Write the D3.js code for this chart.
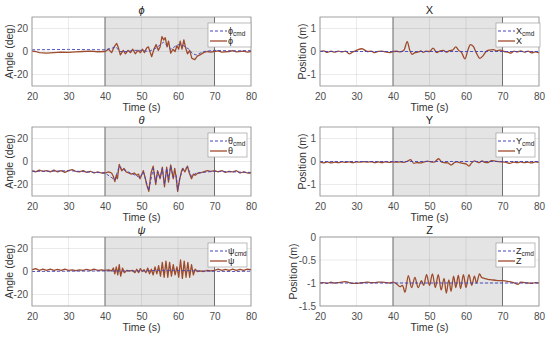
<!DOCTYPE html>
<html>
<head>
<meta charset="utf-8">
<script src="https://cdn.jsdelivr.net/npm/d3@7"></script>
<style>
  body { margin: 0; background: #fff; }
  svg { display: block; font-family: "Liberation Sans", Arial, sans-serif; }
</style>
</head>
<body>
<div id="chart"></div>
<script>
// time window and the shaded disturbance interval
const timeDomain = [20, 80];
const timeTicks = [20, 30, 40, 50, 60, 70, 80];
const shadedInterval = [40, 70];

const angleDomain = [-30, 30];
const angleTicks = [-20, 0, 20];
const posDomain = [-1.5, 1.5];
const posTicks = [-1, 0, 1];
const zDomain = [-1.5, 0];
const zTicks = [-1.5, -1, -0.5, 0];

// [time, value] pairs
const phiMeas = [[20,0.3],[21,0],[22,-1],[24,-1.5],[26,-1],[28,-0.5],[30,-0.8],[32,-0.3],[34,0],[36,0.3],[38,-0.2],[40,0],[41,2],[41.8,-1],[42.5,4],[43.2,7],[43.7,3],[44.2,-3],[45,1],[45.6,-2],[46.3,1],[47,-1],[47.6,2],[48.3,-2],[49,1],[49.7,-1],[50.3,2],[50.8,-1],[51.4,3],[51.9,4],[52.4,-1],[52.8,-4.5],[53.4,2],[54,6],[54.6,1],[55.1,4],[55.6,13],[56.1,10],[56.5,12],[57,4],[57.4,9],[58,-1.5],[58.6,2],[59.2,0],[59.7,5],[60.2,2],[60.6,9],[61.1,2],[61.6,10],[62.1,3],[62.6,-2],[63.2,1],[63.8,-6],[64.6,-7],[65.3,-4],[66,-3],[67,-1],[68,0],[69,-0.5],[70,0],[71,0.5],[72,-0.5],[74,0],[75,0.7],[76,-0.3],[78,0.3],[79,-0.5],[80,0]];
const phiCmd = [[20,1.5],[30,1.8],[40,1.5],[42,3],[43,4],[44,0],[46,0],[48,1],[50,1],[52,0],[54,3],[56,8],[57,5],[58,2],[60,6],[61.5,5],[63,2],[64,-2],[65,-3],[67,0],[70,1],[75,0.5],[80,0.8]];

const thetaMeas = [[20,-8],[21,-9],[22,-7.5],[23,-8.5],[24,-8],[25,-9],[26,-7.5],[27,-9],[28,-8],[29,-9.5],[30,-8],[31,-7],[32,-8.5],[33,-9],[34,-8],[35,-9.5],[36,-8.5],[37,-10],[38,-9],[39,-10],[40,-10],[41,-9],[41.8,-10],[42.3,-13],[42.7,-17.5],[43.1,-12],[43.4,-15],[43.9,-2.5],[44.3,-6],[44.6,-8],[45.2,-6],[45.8,-9],[46.5,-10],[47.2,-11],[48,-10],[48.7,-12],[49.2,-11],[49.6,-15],[50.1,-11],[50.5,-8],[51,-14],[51.4,-20],[52,-26],[52.6,-10],[53.2,-4],[53.9,-20],[54.4,-8],[55.1,-15],[55.7,-5],[56.3,-22],[56.9,-5],[57.4,-18],[58,-3],[58.7,-15],[59.1,-6],[59.5,-14],[59.9,-26],[60.5,-15],[61,-8],[61.3,-6],[61.9,-9],[62.6,-4],[63.1,-10],[63.7,-15],[64.2,-11],[64.7,-12],[65.5,-10],[66,-10],[67,-9],[68,-8],[69,-8.5],[70,-8],[71,-9],[72,-8],[73,-9.5],[74,-8.5],[75,-9],[76,-8],[77,-10],[78,-9],[79,-10],[80,-10]];
const thetaCmd = [[20,-8.5],[25,-8.5],[30,-8],[35,-9],[40,-10],[42.7,-16],[43.9,-4],[45,-7],[47,-10],[49.6,-14],[50.5,-9],[52,-25],[53.2,-6],[53.9,-18],[54.4,-9],[55.1,-14],[55.7,-6],[56.3,-20],[56.9,-6],[57.4,-16],[58,-4],[58.7,-14],[59.5,-12],[59.9,-25],[60.5,-14],[61.3,-7],[62.6,-5],[63.7,-13],[65,-10],[70,-8.5],[75,-9],[80,-9.5]];

const psiMeas = [[20,1.5],[21,2.5],[22,1],[23,2],[24,1],[25,2],[26,1],[27,1.8],[28,1],[29,2],[30,1],[31,1.5],[32,0.8],[33,1.5],[34,1],[35,1.8],[36,1],[37,2],[38,1],[39,1.5],[40,1],[41,1.5],[41.8,0.5],[42.3,3],[42.7,-2],[43.1,4],[43.5,-3],[43.9,6],[44.3,-4],[44.8,3],[45.3,-1],[46,1],[46.8,0.5],[47.5,1],[48.2,-1],[48.7,2],[49.2,-1],[49.7,2.5],[50.2,0],[50.7,1.5],[51.2,-1],[51.7,3],[52.2,-2],[52.7,2],[53.2,-3],[53.7,4],[54.2,-2],[54.7,5],[55.2,-4],[55.7,8],[56.2,-5],[56.7,9],[57.2,-5],[57.7,8],[58.2,-4],[58.7,6],[59.2,-3],[59.7,4],[60.2,-5],[60.7,10],[61.2,-6],[61.7,9],[62.2,-5],[62.7,8],[63.2,-5],[63.7,6],[64.2,-3],[64.7,2],[65.3,0],[66,0.5],[67,0],[68,1],[69,0.5],[70,1],[71,2],[72,1],[73,1.8],[74,1],[75,2],[76,1],[77,1.8],[78,1],[79,2],[80,1.5]];
const psiCmd = [[20,0],[30,0.3],[40,0.5],[45,0.5],[50,0.5],[55,1],[60,1],[65,0.5],[70,0.2],[75,0],[80,0.3]];

const xMeas = [[20,0],[21,0.03],[22,-0.04],[23,0.02],[24,-0.03],[25,0.02],[26,-0.02],[27,0.02],[28,-0.1],[29,-0.02],[30,0.05],[31.5,0.12],[33,0],[34,0.02],[35,-0.05],[36,0.01],[37,0.02],[38,-0.02],[39,-0.05],[40,0],[41,0.01],[42,-0.02],[43,0.05],[43.9,0.43],[44.6,0.05],[45.2,-0.12],[46,-0.05],[47,-0.02],[47.6,0.03],[48.3,-0.04],[49,0.02],[50,0],[51,0.15],[52,-0.05],[52.8,0.02],[53.8,0.05],[54.6,-0.03],[55.5,0.04],[56.3,0.06],[57.2,0.2],[58,0.05],[58.8,-0.05],[59.7,-0.32],[60.5,0.05],[61.2,0.3],[62,0.22],[62.8,-0.05],[63.8,-0.3],[64.7,-0.18],[65.5,0],[66.3,0.06],[67.5,0.08],[68.5,0.03],[69.4,0.06],[70.5,0],[71.5,-0.03],[72.3,-0.07],[73.2,0.02],[74,-0.02],[75,0.03],[76,-0.03],[77,0.02],[78,-0.06],[79,-0.02],[80,-0.06]];
const xCmd = [[20,0],[80,0]];

const yMeas = [[20,-0.03],[21,-0.06],[22,-0.02],[23,-0.06],[24,-0.03],[25,-0.05],[26,-0.02],[27,-0.04],[28,-0.02],[29,-0.05],[30,-0.02],[31,-0.03],[32,-0.01],[33,-0.03],[34,-0.01],[35,-0.05],[36,-0.02],[37,-0.05],[38,-0.01],[39,-0.04],[40,-0.02],[41,-0.03],[42,-0.02],[43,-0.04],[44,0.02],[44.8,0.08],[45.7,-0.08],[46.5,-0.05],[47.5,-0.06],[48.5,-0.02],[49.5,0.02],[50.3,-0.02],[51.2,-0.03],[52.5,0.12],[53.3,-0.02],[54,-0.05],[55,-0.06],[56,-0.15],[56.8,-0.05],[57.5,-0.02],[58.3,-0.05],[59.2,-0.08],[60,-0.1],[60.8,-0.2],[61.6,-0.05],[62.3,0.03],[63,-0.02],[63.6,-0.05],[64.4,0.03],[65.2,-0.04],[66,-0.05],[67,0.04],[68,0.02],[69,-0.01],[70,-0.02],[71,-0.04],[72,-0.08],[73,-0.03],[74,-0.05],[75,-0.02],[76,-0.05],[77,-0.03],[78,-0.06],[79,-0.02],[80,-0.04]];
const yCmd = [[20,0],[80,0]];

const zMeas = [[20,-1],[21,-0.99],[22,-1.01],[23,-0.98],[24,-1],[25,-0.99],[26,-0.98],[27,-0.97],[28,-0.99],[29,-1.01],[30,-1.01],[31,-1],[32,-0.99],[33,-0.98],[34,-0.99],[35,-0.99],[36,-0.98],[37,-0.98],[38,-0.99],[39,-1.0],[40,-0.98],[41,-1.02],[41.9,-1.08],[42.6,-1.05],[43.3,-1.2],[44.2,-0.84],[45.1,-1.1],[46,-0.88],[46.9,-1.1],[47.8,-0.95],[48.4,-1.05],[49.2,-0.82],[50,-1.05],[50.8,-0.8],[51.6,-1.1],[52.4,-0.82],[53.2,-1.15],[54,-0.9],[54.6,-1.22],[55.3,-0.93],[55.9,-1.18],[56.6,-0.85],[57.2,-1.1],[57.9,-0.83],[58.5,-1.12],[59.3,-0.82],[60,-1.1],[60.8,-0.82],[61.6,-1.05],[62.3,-0.85],[62.9,-1.0],[63.7,-0.8],[64.3,-0.88],[65,-0.9],[66,-0.92],[67,-0.93],[68,-0.94],[69,-0.95],[70,-0.95],[71,-0.96],[72,-0.97],[73,-0.99],[74.3,-1.03],[75,-0.98],[76,-0.99],[77,-1.0],[78,-1.01],[79,-0.99],[80,-1.0]];
const zCmd = [[20,-1],[80,-1]];

const cmdColor = "#4242c0";
const measColor = "#9e4b2c";

const width = 550, height = 337;
const colLeft = [32, 320];
const rowTop = [17, 127, 237];
const plotW = 219, plotH = 69;

const panels = [
    {title: "\u03d5", sym: "\u03d5", col: 0, row: 0, ylab: "Angle (deg)", domain: angleDomain, ticks: angleTicks, meas: phiMeas, cmd: phiCmd, smooth: false, legW: 43},
    {title: "\u03b8", sym: "\u03b8", col: 0, row: 1, ylab: "Angle (deg)", domain: angleDomain, ticks: angleTicks, meas: thetaMeas, cmd: thetaCmd, smooth: false, legW: 39},
    {title: "\u03c8", sym: "\u03c8", col: 0, row: 2, ylab: "Angle (deg)", domain: angleDomain, ticks: angleTicks, meas: psiMeas, cmd: psiCmd, smooth: false, legW: 39},
    {title: "X", sym: "X", col: 1, row: 0, ylab: "Position (m)", domain: posDomain, ticks: posTicks, meas: xMeas, cmd: xCmd, smooth: true, legW: 44},
    {title: "Y", sym: "Y", col: 1, row: 1, ylab: "Position (m)", domain: posDomain, ticks: posTicks, meas: yMeas, cmd: yCmd, smooth: true, legW: 39},
    {title: "Z", sym: "Z", col: 1, row: 2, ylab: "Position (m)", domain: zDomain, ticks: zTicks, meas: zMeas, cmd: zCmd, smooth: true, legW: 39}
];

const svg = d3.select("#chart").append("svg")
    .attr("width", width)
    .attr("height", height);

panels.forEach((p, i) => {
    const g = svg.append("g")
        .attr("transform", `translate(${colLeft[p.col]},${rowTop[p.row]})`);

    const x = d3.scaleLinear().domain(timeDomain).range([0, plotW]);
    const y = d3.scaleLinear().domain(p.domain).range([plotH, 0]);

    g.append("clipPath").attr("id", "clip" + i)
        .append("rect").attr("width", plotW).attr("height", plotH);

    // shaded disturbance window
    g.append("rect")
        .attr("x", x(shadedInterval[0]))
        .attr("width", x(shadedInterval[1]) - x(shadedInterval[0]))
        .attr("y", 0).attr("height", plotH)
        .attr("fill", "#e4e4e4");

    // grid
    g.append("g").selectAll("line").data(timeTicks).join("line")
        .attr("x1", d => x(d)).attr("x2", d => x(d))
        .attr("y1", 0).attr("y2", plotH)
        .attr("stroke", "#000").attr("stroke-opacity", 0.08);
    g.append("g").selectAll("line").data(p.ticks).join("line")
        .attr("x1", 0).attr("x2", plotW)
        .attr("y1", d => y(d)).attr("y2", d => y(d))
        .attr("stroke", "#000").attr("stroke-opacity", 0.08);

    // interval edges
    g.append("g").selectAll("line").data(shadedInterval).join("line")
        .attr("x1", d => x(d)).attr("x2", d => x(d))
        .attr("y1", 0).attr("y2", plotH)
        .attr("stroke", "#707070").attr("stroke-width", 1);

    const line = d3.line()
        .x(d => x(d[0]))
        .y(d => y(d[1]))
        .curve(p.smooth ? d3.curveMonotoneX : d3.curveLinear);

    const lines = g.append("g").attr("clip-path", `url(#clip${i})`);
    lines.append("path").datum(p.meas)
        .attr("d", line)
        .attr("fill", "none")
        .attr("stroke", measColor)
        .attr("stroke-width", 1.3)
        .attr("stroke-linejoin", "round");
    lines.append("path").datum(p.cmd)
        .attr("d", line)
        .attr("fill", "none")
        .attr("stroke", cmdColor)
        .attr("stroke-width", 0.9)
        .attr("stroke-dasharray", "3,2");

    // axes
    const xAxis = g.append("g")
        .attr("transform", `translate(0,${plotH})`)
        .call(d3.axisBottom(x).tickValues(timeTicks).tickSize(0).tickPadding(7));
    const yAxis = g.append("g")
        .call(d3.axisLeft(y).tickValues(p.ticks).tickSize(0).tickPadding(4)
            .tickFormat(d => d3.format("")(d).replace("\u2212", "-")));
    [xAxis, yAxis].forEach(a => {
        a.select(".domain").remove();
        a.selectAll("text").attr("fill", "#4d4d4d").attr("font-size", "10px")
            .attr("font-family", "Liberation Sans, Arial, sans-serif");
    });

    g.append("rect")
        .attr("width", plotW).attr("height", plotH)
        .attr("fill", "none").attr("stroke", "#8c8c8c").attr("stroke-width", 0.8);

    // titles
    g.append("text")
        .attr("x", plotW / 2).attr("y", -3)
        .attr("text-anchor", "middle")
        .attr("font-size", "11px").attr("fill", "#222")
        .attr("font-style", p.col === 0 ? "italic" : "normal")
        .text(p.title);
    g.append("text")
        .attr("x", plotW / 2).attr("y", plotH + 25)
        .attr("text-anchor", "middle")
        .attr("font-size", "10.5px").attr("fill", "#333")
        .text("Time (s)");
    g.append("text")
        .attr("transform", "rotate(-90)")
        .attr("x", -plotH / 2)
        .attr("y", p.domain === zDomain ? -23 : (p.col === 0 ? -19 : -14))
        .attr("text-anchor", "middle")
        .attr("font-size", "10.5px").attr("fill", "#333")
        .text(p.ylab);

    // legend
    const leg = g.append("g").attr("transform", `translate(${plotW - 43},6)`);
    leg.append("rect")
        .attr("width", p.legW).attr("height", 24)
        .attr("fill", "#fff").attr("stroke", "#a0a0a0").attr("stroke-width", 0.7);
    leg.append("line")
        .attr("x1", 2).attr("x2", 19).attr("y1", 8).attr("y2", 8)
        .attr("stroke", cmdColor).attr("stroke-width", 1).attr("stroke-dasharray", "3,2");
    leg.append("line")
        .attr("x1", 2).attr("x2", 19).attr("y1", 18).attr("y2", 18)
        .attr("stroke", measColor).attr("stroke-width", 1.3);
    const t1 = leg.append("text").attr("x", 20).attr("y", 11)
        .attr("font-size", "9px").attr("fill", "#222");
    t1.append("tspan").text(p.sym);
    t1.append("tspan").attr("dy", 2).attr("font-size", "6.5px").text("cmd");
    leg.append("text").attr("x", 20).attr("y", 21)
        .attr("font-size", "9px").attr("fill", "#222")
        .text(p.sym);
});
</script>
</body>
</html>
